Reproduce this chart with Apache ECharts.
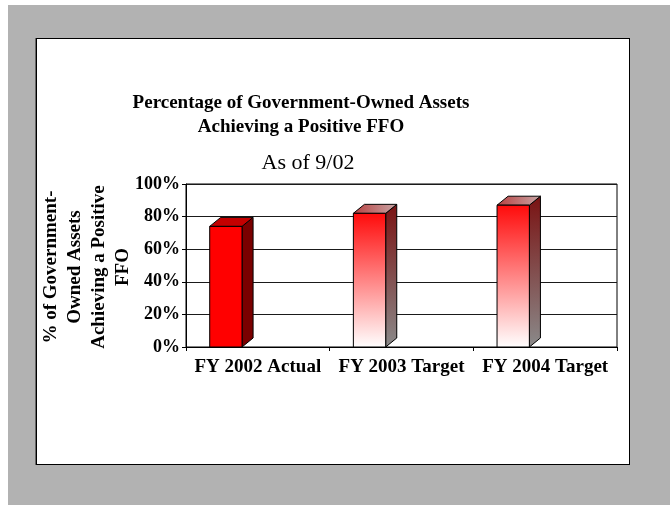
<!DOCTYPE html>
<html>
<head>
<meta charset="utf-8">
<script src="https://cdn.jsdelivr.net/npm/echarts@6/dist/echarts.min.js"></script>
<style>
  html, body { margin: 0; padding: 0; background: #fff; }
  #bg { position: absolute; left: 8px; top: 5px; width: 662px; height: 500px; background: #b2b2b2; }
  #panel { position: absolute; left: 36px; top: 38px; width: 594px; height: 427px; box-sizing: border-box;
           background: #fff; border: 1px solid #000; box-shadow: -1px 0 0 #666; }
  #chart { position: absolute; left: 0; top: 0; width: 670px; height: 505px; }
</style>
</head>
<body>
<div id="bg"></div>
<div id="panel"></div>
<div id="chart"></div>
<script>
// Share of government-owned assets with a positive FFO
const categories = ['FY 2002 Actual', 'FY 2003 Target', 'FY 2004 Target'];
const values = [74, 82, 87];
const yTicks = [0, 20, 40, 60, 80, 100];

const titleLines = ['Percentage of Government-Owned Assets', 'Achieving a Positive FFO'];
const subtitle = 'As of 9/02';
const yTitleLines = ['% of Government-', 'Owned Assets', 'Achieving a Positive', 'FFO'];

const serif = '"Liberation Serif", "Times New Roman", serif';
const LG = echarts.graphic.LinearGradient;

// Faces of a column drawn as a box: front, right side, top
function faceStyles(i) {
  if (i === 0) {
    return { front: '#ff0000', side: '#7a0000', top: '#c40000' };
  }
  return {
    front: new LG(0, 0, 0, 1, [{ offset: 0, color: '#ff0a0a' }, { offset: 1, color: '#ffffff' }]),
    side: new LG(0, 0, 0, 1, [{ offset: 0, color: '#7a1212' }, { offset: 1, color: '#8a8a8a' }]),
    top: new LG(0, 0, 1, 0, [{ offset: 0, color: '#b84040' }, { offset: 1, color: '#c8a6a6' }])
  };
}

function renderBox(params, api) {
  const idx = api.value(0);
  const val = api.value(1);
  const band = api.size([1, 0])[0];
  const base = api.coord([idx, 0]);
  const top = api.coord([idx, val]);
  const w = band * 0.225;
  const x0 = base[0] - band * 0.335;
  const x1 = x0 + w;
  const dx = band * 0.077;
  const dy = 9;
  const y0 = base[1];
  const y1 = top[1];
  const s = faceStyles(params.dataIndex);
  const edge = { stroke: '#000', lineWidth: 1 };
  return {
    type: 'group',
    children: [
      { type: 'polygon', shape: { points: [[x1, y1], [x1 + dx, y1 - dy], [x1 + dx, y0 - dy], [x1, y0]] },
        style: Object.assign({ fill: s.side }, edge) },
      { type: 'polygon', shape: { points: [[x0, y1], [x0 + dx, y1 - dy], [x1 + dx, y1 - dy], [x1, y1]] },
        style: Object.assign({ fill: s.top }, edge) },
      { type: 'rect', shape: { x: x0, y: y1, width: w, height: y0 - y1 },
        style: Object.assign({ fill: s.front }, edge) }
    ]
  };
}

const chart = echarts.init(document.getElementById('chart'), null, { renderer: 'canvas' });

const graphics = [];
titleLines.forEach((t, i) => {
  graphics.push({ type: 'text', x: 301, y: 103 + i * 24,
    style: { text: t, font: 'bold 19px ' + serif, fill: '#000', align: 'center', verticalAlign: 'middle' } });
});
graphics.push({ type: 'text', x: 308, y: 163,
  style: { text: subtitle, font: '22px ' + serif, fill: '#000', align: 'center', verticalAlign: 'middle' } });
graphics.push({ type: 'group', x: 87, y: 267, rotation: Math.PI / 2,
  children: yTitleLines.map((t, i) => ({ type: 'text', x: 0, y: (i - 1.5) * 24,
    style: { text: t, font: 'bold 19px ' + serif, fill: '#000', align: 'center', verticalAlign: 'middle' } })) });

chart.setOption({
  animation: false,
  backgroundColor: 'transparent',
  graphic: graphics,
  grid: { left: 186, right: 53, top: 184, bottom: 158, show: true, borderColor: '#000', borderWidth: 1,
          backgroundColor: 'transparent' },
  xAxis: {
    type: 'category',
    data: categories,
    axisLine: { lineStyle: { color: '#000', width: 1 } },
    axisTick: { show: true, length: 4, lineStyle: { color: '#000' } },
    axisLabel: { color: '#000', fontFamily: serif, fontWeight: 'bold', fontSize: 19, margin: 11, interval: 0 }
  },
  yAxis: {
    type: 'value',
    min: yTicks[0],
    max: yTicks[yTicks.length - 1],
    interval: yTicks[1] - yTicks[0],
    axisLine: { show: true, lineStyle: { color: '#000', width: 1 } },
    axisTick: { show: true, length: 4, lineStyle: { color: '#000' } },
    axisLabel: { color: '#000', fontFamily: serif, fontWeight: 'bold', fontSize: 18, margin: 6,
                 formatter: '{value}%' },
    splitLine: { show: true, lineStyle: { color: '#1a1a1a', width: 1 } }
  },
  series: [{
    type: 'custom',
    renderItem: renderBox,
    data: values.map((v, i) => [i, v]),
    encode: { x: 0, y: 1 }
  }]
});
</script>
</body>
</html>
